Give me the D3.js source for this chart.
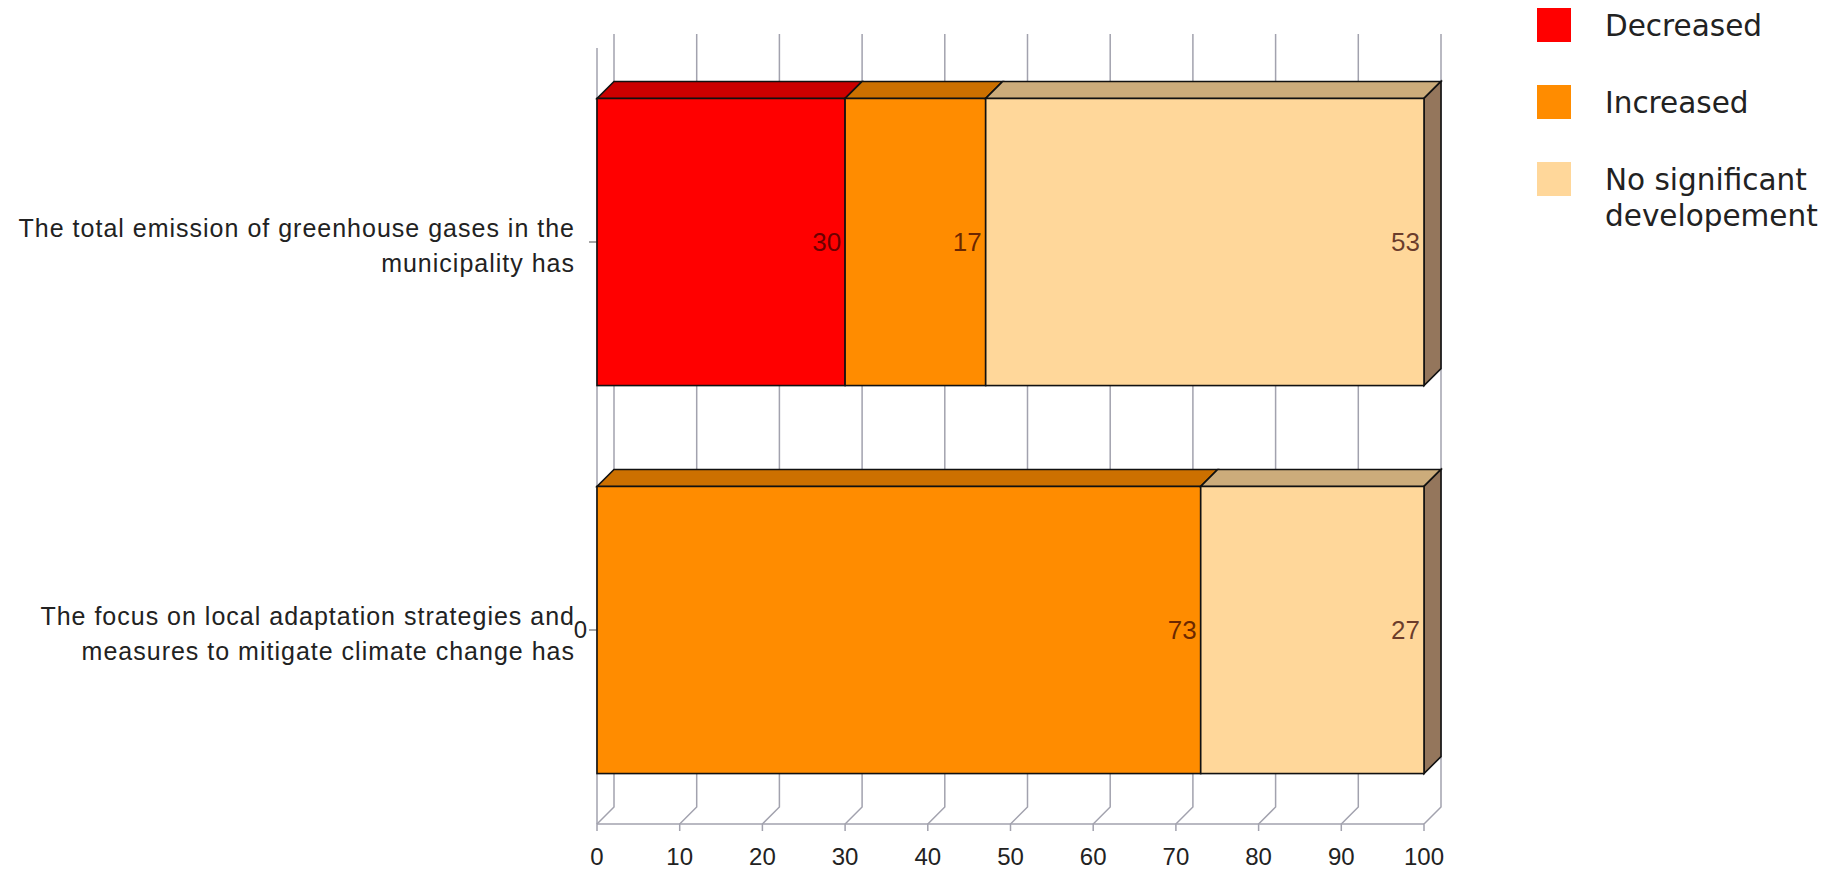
<!DOCTYPE html>
<html>
<head>
<meta charset="utf-8">
<script src="https://cdn.jsdelivr.net/npm/d3@7"></script>
<style>
  html, body { margin: 0; padding: 0; background: #ffffff; }
  svg { display: block; }
</style>
</head>
<body>
<svg id="chart" width="1836" height="869"></svg>
<script>
// Survey answers, percent of respondents per statement
const categories = [
  "The total emission of greenhouse gases in the municipality has",
  "The focus on local adaptation strategies and measures to mitigate climate change has"
];
const categoryLines = [
  ["The total emission of greenhouse gases in the", "municipality has"],
  ["The focus on local adaptation strategies and", "measures to mitigate climate change has"]
];
const seriesNames = ["Decreased", "Increased", "No significant developement"];
const legendLines = [["Decreased"], ["Increased"], ["No significant", "developement"]];
const decreased = [30, 0];
const increased = [17, 73];
const noSignificant = [53, 27];
const xTicks = [0, 10, 20, 30, 40, 50, 60, 70, 80, 90, 100];
const yTickLabels = ["", "0"];
const seriesColors = ["#ff0000", "#ff8c00", "#ffd79a"];

const rows = categories.map((c, i) => ({
  category: c,
  "Decreased": decreased[i],
  "Increased": increased[i],
  "No significant developement": noSignificant[i]
}));

const svg = d3.select("#chart");
const depth = 17;
const x = d3.scaleLinear().domain([0, 100]).range([597, 1424]);
const y = d3.scaleBand().domain(categories).range([48, 824])
  .paddingInner(0.26).paddingOuter(0.13);
const color = d3.scaleOrdinal().domain(seriesNames).range(seriesColors);
const floorY = y.range()[1];
const gridColor = "#a2a2ae";

// Back wall grid lines, folding forward across the floor to the front axis
const grid = svg.append("g");
grid.selectAll("path.grid").data(xTicks).join("path")
  .attr("class", "grid")
  .attr("fill", "none")
  .attr("stroke", gridColor)
  .attr("stroke-width", 1.5)
  .attr("d", t => {
    const p = d3.path();
    p.moveTo(x(t) + depth, 34);
    p.lineTo(x(t) + depth, floorY - depth);
    p.lineTo(x(t), floorY);
    p.lineTo(x(t), floorY + 7);
    return p.toString();
  });

// Front baseline
grid.append("line")
  .attr("x1", x(0)).attr("x2", x(100))
  .attr("y1", floorY).attr("y2", floorY)
  .attr("stroke", gridColor).attr("stroke-width", 1.5);

// Front left axis
grid.append("line")
  .attr("x1", x(0)).attr("x2", x(0))
  .attr("y1", y.range()[0]).attr("y2", floorY)
  .attr("stroke", gridColor).attr("stroke-width", 1.5);

// Category ticks on the left axis
grid.selectAll("line.ytick").data(categories).join("line")
  .attr("class", "ytick")
  .attr("x1", x(0) - 8).attr("x2", x(0))
  .attr("y1", d => y(d) + y.bandwidth() / 2)
  .attr("y2", d => y(d) + y.bandwidth() / 2)
  .attr("stroke", "#888").attr("stroke-width", 1.5);

svg.append("g").selectAll("text").data(categories).join("text")
  .attr("x", x(0) - 10)
  .attr("y", d => y(d) + y.bandwidth() / 2 + 8)
  .attr("text-anchor", "end")
  .attr("font-family", "Liberation Sans, Arial, sans-serif")
  .attr("font-size", 24)
  .attr("fill", "#222")
  .text((d, i) => yTickLabels[i]);

// X tick labels
svg.append("g").selectAll("text").data(xTicks).join("text")
  .attr("x", d => x(d))
  .attr("y", 865)
  .attr("text-anchor", "middle")
  .attr("font-family", "Liberation Sans, Arial, sans-serif")
  .attr("font-size", 24)
  .attr("fill", "#222")
  .text(d => d);

// Stacked 3D bars
const stack = d3.stack().keys(seriesNames)(rows);
const bars = svg.append("g");
stack.forEach(layer => {
  const base = d3.color(color(layer.key));
  layer.forEach(seg => {
    const v = seg[1] - seg[0];
    if (v <= 0) return;
    const x0 = x(seg[0]), x1 = x(seg[1]);
    const yt = y(seg.data.category), yb = yt + y.bandwidth();
    const g = bars.append("g")
      .attr("stroke", "#111").attr("stroke-width", 1.6)
      .attr("stroke-linejoin", "miter");
    // top face
    const top = base.copy(); top.r *= 0.8; top.g *= 0.8; top.b *= 0.8;
    g.append("polygon")
      .attr("points", [[x0, yt], [x1, yt], [x1 + depth, yt - depth], [x0 + depth, yt - depth]].join(" "))
      .attr("fill", top.formatHex());
    // right face on the last segment of the bar
    if (seg[1] >= 100) {
      const side = base.copy(); side.r *= 0.58; side.g *= 0.55; side.b *= 0.6;
      g.append("polygon")
        .attr("points", [[x1, yt], [x1 + depth, yt - depth], [x1 + depth, yb - depth], [x1, yb]].join(" "))
        .attr("fill", side.formatHex());
    }
    // front face
    g.append("rect")
      .attr("x", x0).attr("y", yt)
      .attr("width", x1 - x0).attr("height", y.bandwidth())
      .attr("fill", base.formatHex());
    // value label
    bars.append("text")
      .attr("x", x1 - 4)
      .attr("y", yt + y.bandwidth() / 2 + 9)
      .attr("text-anchor", "end")
      .attr("font-family", "Liberation Sans, Arial, sans-serif")
      .attr("font-size", 26)
      .attr("fill", "rgba(50,0,0,0.72)")
      .text(v);
  });
});

// Category labels
svg.append("g").selectAll("text").data(categories).join("text")
  .attr("text-anchor", "end")
  .attr("font-family", "Liberation Sans, Arial, sans-serif")
  .attr("font-size", 25)
  .attr("letter-spacing", 1)
  .attr("fill", "#222")
  .each(function(d, i) {
    const cy = y(d) + y.bandwidth() / 2;
    d3.select(this).selectAll("tspan").data(categoryLines[i]).join("tspan")
      .attr("x", 575)
      .attr("y", (l, j) => cy - 5 + j * 35)
      .text(l => l);
  });

// Legend
const legend = svg.append("g");
const legendTop = [8, 85, 162];
seriesNames.forEach((name, i) => {
  legend.append("rect")
    .attr("x", 1537).attr("y", legendTop[i])
    .attr("width", 34).attr("height", 34)
    .attr("fill", color(name));
  const t = legend.append("text")
    .attr("font-family", "DejaVu Sans, Verdana, sans-serif")
    .attr("font-size", 29.5)
    .attr("fill", "#222");
  t.selectAll("tspan").data(legendLines[i]).join("tspan")
    .attr("x", 1605)
    .attr("y", (l, j) => legendTop[i] + 28 + j * 36)
    .text(l => l);
});
</script>
</body>
</html>
